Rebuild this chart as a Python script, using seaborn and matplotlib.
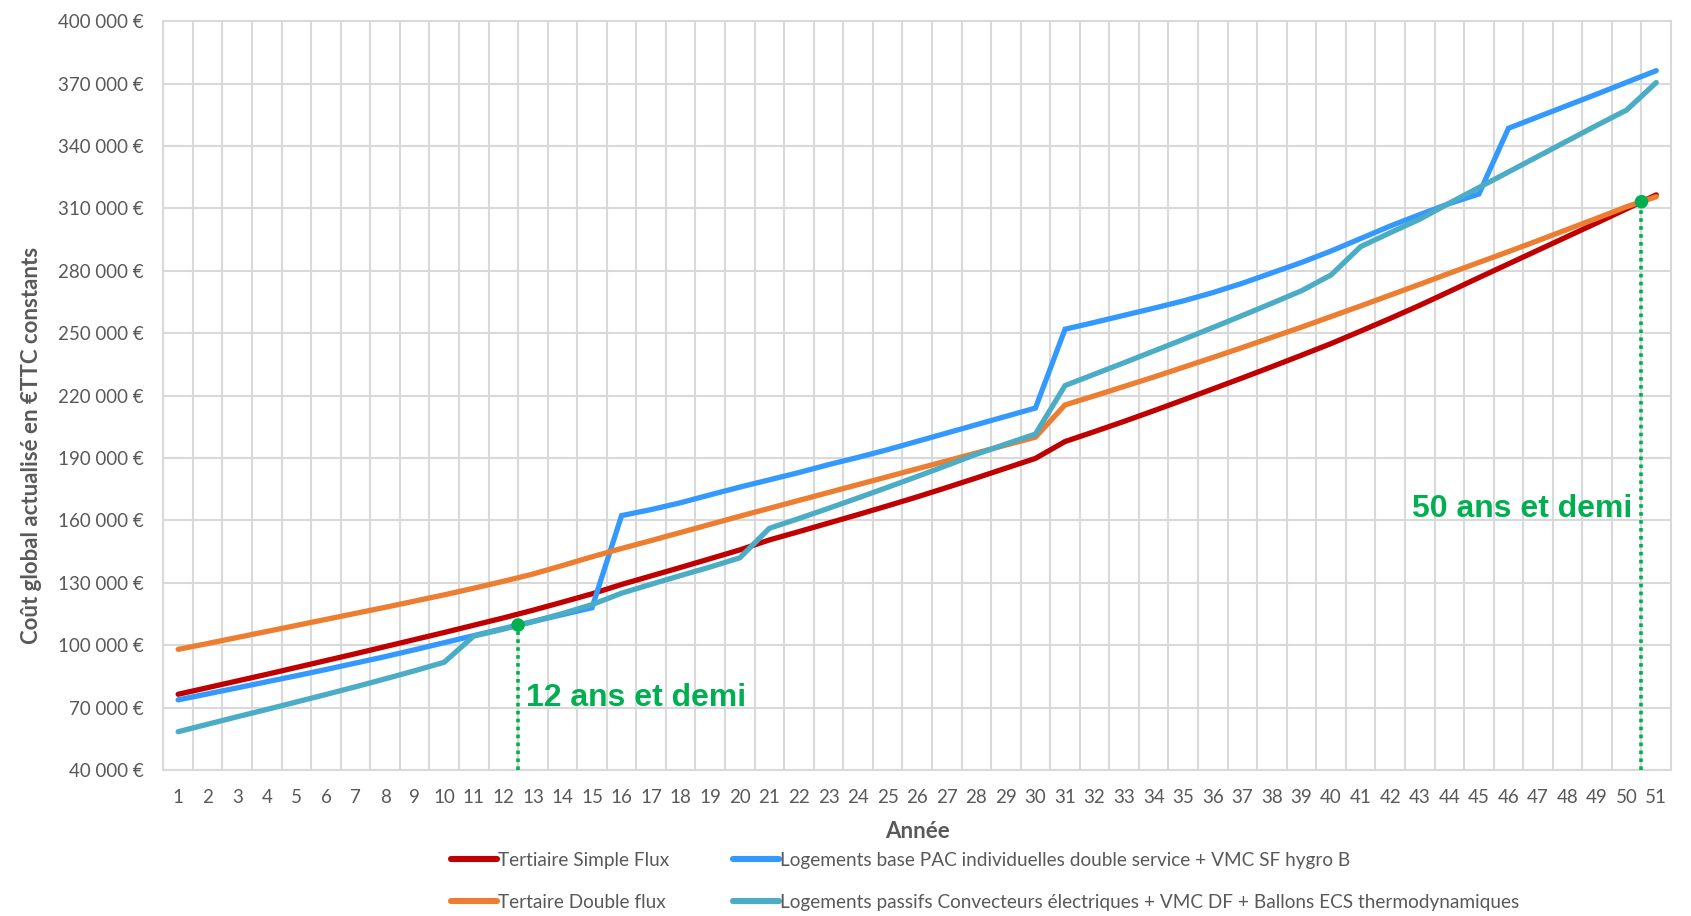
import matplotlib
matplotlib.use("Agg")
import matplotlib.pyplot as plt
from matplotlib.ticker import FuncFormatter
from matplotlib.lines import Line2D
import numpy as np
import pandas as pd
import seaborn as sns

# Années d'exploitation
years = list(range(1, 52))

# Coût global actualisé (€ TTC constants) par scénario
tertiaire_simple_flux = [
    76400, 79600, 82800, 86000, 89300, 92600, 95900, 99300, 102700, 106100,
    109600, 113100, 116800, 120700, 124700, 129200, 133300, 137400, 141600, 145800,
    150600, 154600, 158700, 162800, 167000, 171300, 175800, 180400, 185100, 189800,
    197900, 202700, 207600, 212700, 217900, 223200, 228500, 233900, 239400, 245000,
    251000, 257100, 263400, 270000, 276700, 283300, 289900, 296500, 303100, 309800,
    316500,
]
tertiaire_double_flux = [
    98000, 100800, 103700, 106600, 109500, 112400, 115300, 118200, 121200, 124200,
    127400, 130700, 134200, 138300, 142500, 146500, 150300, 154200, 158100, 162000,
    165800, 169600, 173400, 177200, 181000, 184800, 188600, 192400, 196200, 200000,
    215500, 219900, 224400, 228900, 233600, 238300, 243100, 248000, 252900, 258000,
    263100, 268300, 273500, 278800, 284000, 289200, 294500, 299900, 305300, 310800,
    315600,
]
logements_pac = [
    73700, 76600, 79500, 82400, 85300, 88300, 91400, 94500, 97800, 101200,
    104600, 108000, 111400, 114700, 118000, 162300, 165200, 168500, 172300, 176000,
    179500, 183000, 186800, 190300, 194000, 198000, 202000, 206000, 210000, 214000,
    251900, 255200, 258600, 262000, 265500, 269500, 274000, 279000, 284000, 289500,
    295500, 301500, 307000, 312300, 316900, 348500, 354000, 359500, 365000, 370600,
    376200,
]
logements_passifs = [
    58400, 62000, 65600, 69100, 72700, 76300, 80000, 83800, 87700, 91800,
    104400, 107700, 111300, 115200, 119500, 125000, 129300, 133500, 137600, 142000,
    156200, 160900, 165800, 170800, 175900, 181100, 186400, 191800, 196700, 201500,
    224800, 230300, 235800, 241400, 247000, 252700, 258500, 264400, 270400, 278000,
    291600, 298300, 304800, 312500, 320000, 327500, 335000, 342500, 350000, 357300,
    370500,
]

series_names = [
    "Tertiaire Simple Flux",
    "Tertaire Double flux",
    "Logements base PAC individuelles double service + VMC SF hygro B",
    "Logements passifs Convecteurs électriques + VMC DF + Ballons ECS thermodynamiques",
]
series_values = [tertiaire_simple_flux, tertiaire_double_flux, logements_pac, logements_passifs]
series_colors = ["#C00000", "#ED7D31", "#3399FF", "#4BACC6"]

# Temps de retour marqués sur le graphique
milestone_years = [12.5, 50.5]
milestone_costs = [109700, 313200]
milestone_labels = ["12 ans et demi", "50 ans et demi"]

y_ticks = list(range(40000, 400001, 30000))

sns.set_theme(style="white")
plt.rcParams["font.family"] = ["Lato", "DejaVu Sans"]

GRID = "#D9D9D9"
TEXT = "#595959"
GREEN = "#00B050"

df = pd.concat(
    [pd.DataFrame({"Année": years, "Coût": vals, "Scénario": name})
     for name, vals in zip(series_names, series_values)],
    ignore_index=True,
)

fig = plt.figure(figsize=(16.91, 9.16), dpi=100)
ax = fig.add_axes([0.0966, 0.1594, 0.8916, 0.8175])

# draw order: red, blue, orange, teal
draw_order = [0, 2, 1, 3]
for k, i in enumerate(draw_order):
    sub = df[df["Scénario"] == series_names[i]]
    sns.lineplot(data=sub, x="Année", y="Coût", color=series_colors[i],
                 linewidth=3.8, ax=ax, legend=False, zorder=3 + k,
                 solid_joinstyle="miter", solid_capstyle="round")

# milestones: dotted drop lines and dots
ax.vlines(milestone_years, y_ticks[0], milestone_costs, colors=GREEN,
          linestyles=(0, (1, 1.2)), linewidth=2.6, zorder=8)
sns.scatterplot(x=milestone_years, y=milestone_costs, color=GREEN, s=95,
                edgecolor="none", ax=ax, zorder=9, legend=False)
ax.text(12.77, 74600, milestone_labels[0], color=GREEN, fontsize=23,
        fontweight="bold", family="Liberation Sans", ha="left", va="center", zorder=10)
ax.text(50.2, 165500, milestone_labels[1], color=GREEN, fontsize=23,
        fontweight="bold", family="Liberation Sans", ha="right", va="center", zorder=10)

ax.set_xlim(0.5, 51.5)
ax.set_ylim(y_ticks[0], y_ticks[-1])
ax.set_xticks(years)
ax.set_xticks(np.arange(0.5, 52, 1), minor=True)
ax.set_yticks(y_ticks)
ax.yaxis.set_major_formatter(
    FuncFormatter(lambda v, p: f"{int(v):,}".replace(",", " ") + " €"))

ax.grid(which="minor", axis="x", color=GRID, linewidth=1.5, zorder=1)
ax.grid(which="major", axis="y", color=GRID, linewidth=1.5, zorder=1)
ax.grid(which="major", axis="x", visible=False)
for s in ax.spines.values():
    s.set_color(GRID)
    s.set_linewidth(1.5)

ax.tick_params(axis="both", which="both", length=0)
ax.tick_params(axis="x", pad=14, labelsize=13.5, labelcolor=TEXT)
ax.tick_params(axis="y", pad=14, labelsize=13.5, labelcolor=TEXT)

ax.set_xlabel("Année", fontsize=16, fontweight="bold", color=TEXT)
ax.xaxis.label.set_verticalalignment("center")
ax.xaxis.set_label_coords(0.5, -0.0828)
ax.set_ylabel("Coût global actualisé en €TTC constants", fontsize=16,
              fontweight="bold", color=TEXT)
ax.yaxis.label.set_verticalalignment("center")
ax.yaxis.set_label_coords(-0.0874, 0.433)

# legend, two columns
def handle(c):
    return Line2D([], [], color=c, linewidth=4.4, solid_capstyle="round")

leg_kw = dict(loc="upper left", frameon=False, fontsize=13.7, labelcolor=TEXT,
              handlelength=2.4, handletextpad=0.08, labelspacing=1.3,
              borderpad=0, borderaxespad=0)
leg1 = fig.legend([handle(series_colors[0]), handle(series_colors[1])],
                  [series_names[0], series_names[1]],
                  bbox_to_anchor=(451 / 1691, 1 - 852 / 916), **leg_kw)
leg2 = fig.legend([handle(series_colors[2]), handle(series_colors[3])],
                  [series_names[2], series_names[3]],
                  bbox_to_anchor=(733 / 1691, 1 - 852 / 916), **leg_kw)

fig.savefig("out.png", dpi=100, facecolor="white")
